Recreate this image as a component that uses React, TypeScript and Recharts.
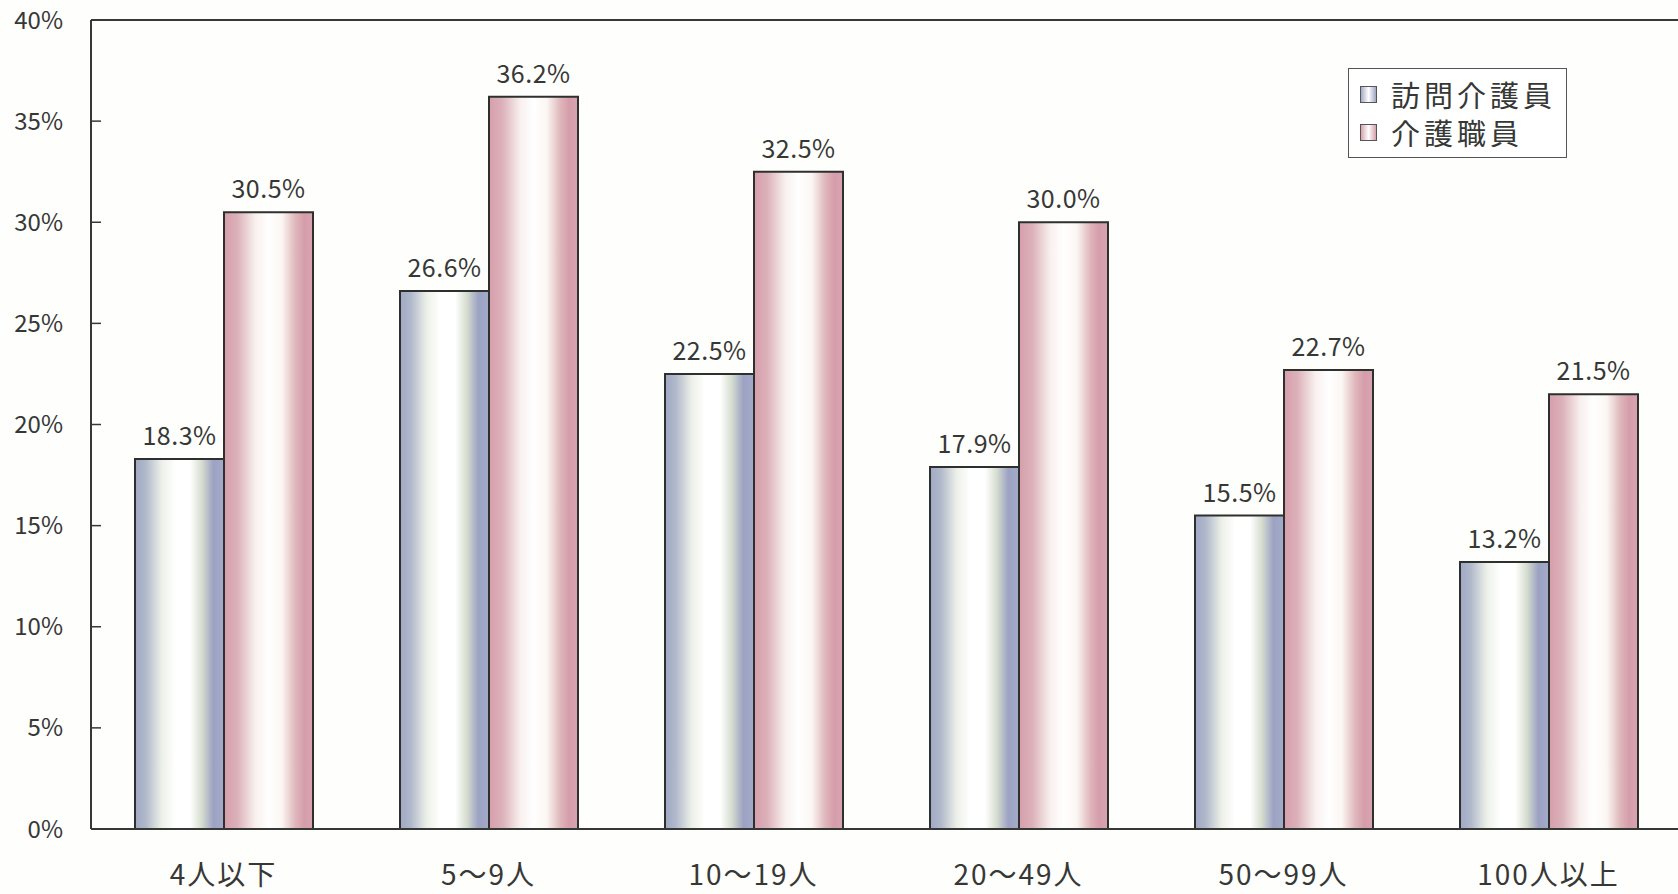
import { Bar, BarChart, LabelList, Legend, XAxis, YAxis } from "recharts";

const categories = ["4人以下", "5～9人", "10～19人", "20～49人", "50～99人", "100人以上"];
const homeHelpers = [18.3, 26.6, 22.5, 17.9, 15.5, 13.2];
const careWorkers = [30.5, 36.2, 32.5, 30.0, 22.7, 21.5];
const seriesNames = ["訪問介護員", "介護職員"];
const yTicks = [0, 5, 10, 15, 20, 25, 30, 35, 40];

const data = categories.map((name, i) => ({
  name,
  home: homeHelpers[i],
  care: careWorkers[i],
}));

const FONT = '"Noto Sans CJK JP", "Noto Sans", sans-serif';
const INK = "#363836";

const fmt = (v: number) => `${v.toFixed(1)}%`;

const legendItems = [
  { label: seriesNames[0], bg: "linear-gradient(90deg,#a3abc6,#ffffff 50%,#9fa5c3)" },
  { label: seriesNames[1], bg: "linear-gradient(90deg,#d7a2ae,#ffffff 50%,#d6a0ad)" },
];

function LegendBox() {
  return (
    <div
      style={{
        border: "1.5px solid #555",
        background: "#fff",
        padding: "6px 6px 6px 11px",
        width: 200,
        fontFamily: FONT,
        fontSize: 29,
        letterSpacing: 4,
        color: INK,
        lineHeight: "38px",
        textAlign: "left",
        whiteSpace: "nowrap",
      }}
    >
      {legendItems.map((p) => (
        <div key={p.label} style={{ display: "flex", alignItems: "center" }}>
          <span
            style={{
              display: "inline-block",
              flex: "none",
              width: 15,
              height: 15,
              border: "1.5px solid #555",
              marginRight: 14,
              background: p.bg,
            }}
          />
          <span>{p.label}</span>
        </div>
      ))}
    </div>
  );
}

export default function App() {
  return (
    <div
      style={{
        position: "absolute",
        left: 0,
        top: 0,
        width: 1678,
        height: 894,
        overflow: "hidden",
        background: "#fefefc",
      }}
    >
      <BarChart
        width={1720}
        height={894}
        data={data}
        margin={{ top: 19, right: 0, bottom: 0, left: 0 }}
        barCategoryGap={44}
        barGap={0}
      >
        <defs>
          <linearGradient id="blueFill" x1="0" y1="0" x2="1" y2="0">
            <stop offset="0" stopColor="#a0a8c6" />
            <stop offset="0.12" stopColor="#b0b8ca" />
            <stop offset="0.3" stopColor="#edf0e8" />
            <stop offset="0.45" stopColor="#ffffff" />
            <stop offset="0.62" stopColor="#ffffff" />
            <stop offset="0.75" stopColor="#d6ddcf" />
            <stop offset="0.88" stopColor="#9ca2c2" />
            <stop offset="1" stopColor="#a4aac8" />
          </linearGradient>
          <linearGradient id="pinkFill" x1="0" y1="0" x2="1" y2="0">
            <stop offset="0" stopColor="#d69eab" />
            <stop offset="0.15" stopColor="#dcb1b9" />
            <stop offset="0.35" stopColor="#f8f0ee" />
            <stop offset="0.5" stopColor="#ffffff" />
            <stop offset="0.65" stopColor="#fbf6f2" />
            <stop offset="0.8" stopColor="#dfb7bb" />
            <stop offset="0.9" stopColor="#d59dab" />
            <stop offset="1" stopColor="#d8a4b0" />
          </linearGradient>
        </defs>
        <XAxis
          dataKey="name"
          padding={{ left: 0, right: 39 }}
          axisLine={{ stroke: INK, strokeWidth: 2 }}
          tickLine={false}
          tickSize={0}
          tickMargin={36}
          height={65}
          tick={{ fill: INK, fontSize: 28, fontFamily: FONT, letterSpacing: 2 }}
          interval={0}
        />
        <XAxis
          xAxisId="top"
          dataKey="name"
          orientation="top"
          height={1}
          tick={false}
          tickLine={false}
          axisLine={{ stroke: INK, strokeWidth: 2 }}
        />
        <YAxis
          width={91}
          domain={[0, 40]}
          ticks={yTicks}
          interval={0}
          tickFormatter={(v) => `${v}%`}
          axisLine={{ stroke: INK, strokeWidth: 2 }}
          tickLine={{ stroke: INK, strokeWidth: 1.5 }}
          tickSize={-10}
          tickMargin={38}
          tick={{ fill: INK, fontSize: 24, fontFamily: FONT }}
        />
        <Legend
          layout="vertical"
          align="center"
          verticalAlign="middle"
          content={<LegendBox />}
          wrapperStyle={{ top: 68, left: 1348, width: 222, right: "auto", bottom: "auto" }}
        />
        <Bar
          dataKey="home"
          name={seriesNames[0]}
          fill="url(#blueFill)"
          stroke="#2e302e"
          strokeWidth={2}
          isAnimationActive={false}
        >
          <LabelList
            dataKey="home"
            position="top"
            offset={14}
            formatter={(v: any) => fmt(Number(v))}
            style={{ fill: INK, fontSize: 25, fontFamily: FONT, letterSpacing: 0.5 }}
          />
        </Bar>
        <Bar
          dataKey="care"
          name={seriesNames[1]}
          fill="url(#pinkFill)"
          stroke="#2e302e"
          strokeWidth={2}
          isAnimationActive={false}
        >
          <LabelList
            dataKey="care"
            position="top"
            offset={14}
            formatter={(v: any) => fmt(Number(v))}
            style={{ fill: INK, fontSize: 25, fontFamily: FONT, letterSpacing: 0.5 }}
          />
        </Bar>
      </BarChart>
    </div>
  );
}
